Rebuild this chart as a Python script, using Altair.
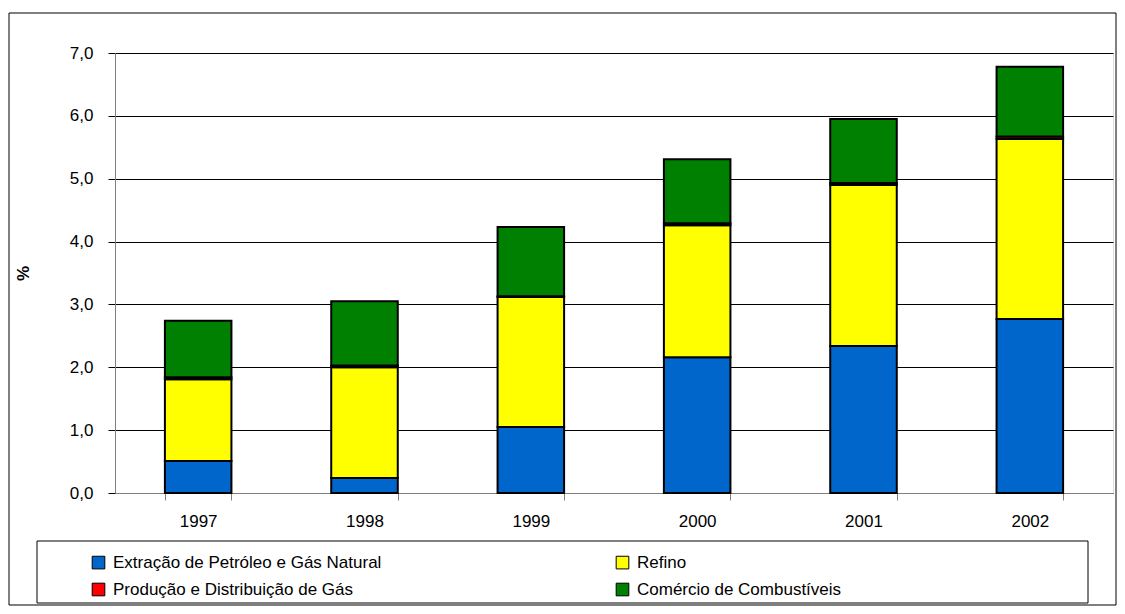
import altair as alt
import pandas as pd

years = ["1997", "1998", "1999", "2000", "2001", "2002"]
series_names = [
    "Extração de Petróleo e Gás Natural",
    "Refino",
    "Produção e Distribuição de Gás",
    "Comércio de Combustíveis",
]
extracao = [0.51, 0.24, 1.05, 2.16, 2.34, 2.77]
refino = [1.30, 1.76, 2.07, 2.10, 2.56, 2.86]
producao = [0.03, 0.03, 0.01, 0.03, 0.03, 0.04]
comercio = [0.90, 1.02, 1.10, 1.02, 1.02, 1.11]
colors = ["#0066CC", "#FFFF00", "#FF0000", "#008000"]
y_ticks = [0, 1, 2, 3, 4, 5, 6, 7]

rows = []
for i, yr in enumerate(years):
    for k, (name, vals) in enumerate(zip(series_names, [extracao, refino, producao, comercio])):
        rows.append({"ano": yr, "setor": name, "valor": vals[i], "ordem": k})
df = pd.DataFrame(rows)

FONT = "Liberation Sans"
FS = 17

bars = alt.Chart(df).mark_bar(stroke="black", strokeWidth=2).encode(
    x=alt.X(
        "ano:N",
        sort=years,
        scale=alt.Scale(paddingInner=0.6, paddingOuter=0.3),
        axis=alt.Axis(
            title=None, labelAngle=0, tickBand="extent", grid=False,
            domainColor="#808080", tickColor="#808080", tickSize=7,
            labelFontSize=FS, labelPadding=13, labelColor="black", labelFont=FONT,
        ),
    ),
    y=alt.Y(
        "valor:Q",
        stack="zero",
        scale=alt.Scale(domain=[0, 7], nice=False),
        axis=alt.Axis(
            values=y_ticks,
            labelExpr="replace(format(datum.value, '.1f'), '.', ',')",
            title="%", titleFontWeight="bold", titleFontSize=FS, titleFont=FONT,
            titleX=-83, titleY=220, titleColor="black",
            gridColor="black", gridWidth=1, tickSize=7, tickColor="black",
            domainColor="#808080", labelPadding=15, labelFontSize=FS,
            labelColor="black", labelFont=FONT,
        ),
    ),
    color=alt.Color(
        "setor:N",
        sort=series_names,
        scale=alt.Scale(domain=series_names, range=colors),
        legend=alt.Legend(
            orient="none", legendX=-25, legendY=501, columns=2,
            direction="horizontal",
            columnPadding=232, rowPadding=9, title=None, padding=0,
            symbolType="square", symbolSize=160, symbolStrokeColor="black",
            symbolStrokeWidth=1, labelFontSize=FS, labelOffset=6,
            labelFont=FONT, labelColor="black", labelLimit=500,
        ),
    ),
    order=alt.Order("ordem:Q"),
)

frame = alt.Chart(pd.DataFrame({"a": [0]})).mark_rect(
    fill=None, stroke="black", strokeWidth=1
).encode(
    x=alt.value(-106), x2=alt.value(1001), y=alt.value(-40), y2=alt.value(552)
)

legend_box = alt.Chart(pd.DataFrame({"a": [0]})).mark_rect(
    fill=None, stroke="black", strokeWidth=1
).encode(
    x=alt.value(-78), x2=alt.value(973), y=alt.value(488), y2=alt.value(550)
)

chart = alt.layer(frame, legend_box, bars).properties(
    width=998,
    height=440,
    autosize=alt.AutoSizeParams(type="none"),
    padding={"left": 107, "top": 45, "right": 4, "bottom": 113},
).configure_view(stroke="#808080", strokeWidth=1).configure(background="white")

chart.save("out.html", embed_options={"renderer": "svg", "actions": False})
